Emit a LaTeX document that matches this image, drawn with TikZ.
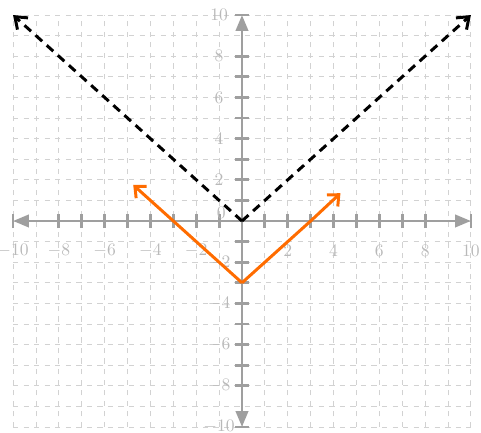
\documentclass[tikz,border=0pt]{standalone}
\usepackage{tikz}
\usetikzlibrary{arrows.meta}

\begin{document}
\begin{tikzpicture}[
    x=0.458cm, y=0.412cm,
    font=\normalsize,
    gridline/.style={
        gray!35,
        line width=0.5pt,
        dash pattern=on 3pt off 3pt
    },
    axisline/.style={
        gray!75,
        line width=1.6pt,
        {Triangle[length=9pt,width=7pt]}-{Triangle[length=9pt,width=7pt]}
    },
    axistick/.style={
        gray!75,
        line width=1.6pt
    },
    ticklabel/.style={
        text=gray!55,
        inner sep=1pt
    },
    parentgraph/.style={
        black,
        line width=1.7pt,
        dash pattern=on 5pt off 3.5pt,
        -{Straight Barb[length=6pt,width=9pt,line width=1.7pt]}
    },
    shiftedgraph/.style={
        orange!85!red,
        line width=1.7pt,
        line join=round,
        -{Straight Barb[length=5pt,width=9pt,line width=1.7pt]}
    }
]
\useasboundingbox (-10.57,-10.29) rectangle (10.44,10.73);
% Grid
\foreach \k in {-10,...,10} {
    \draw[gridline] (\k,-10) -- (\k,10);
    \draw[gridline] (-10,\k) -- (10,\k);
}
% Axes
\coordinate (xleft) at (-10,0);
\coordinate (xright) at (10,0);
\coordinate (ybottom) at (0,-10);
\coordinate (ytop) at (0,10);
\draw[axisline] (xleft) -- (xright);
\draw[axisline] (ybottom) -- (ytop);
% Tick marks
\foreach \k in {-10,-8,-7,-6,-5,-4,-3,-2,-1,1,2,3,4,5,6,7,8,10} {
    \draw[axistick] (\k,-0.35) -- (\k,0.35);
    \draw[axistick] (-0.3,\k) -- (0.3,\k);
}
% Labels on the x-axis
\foreach \k in {-10,-8,-6,-4,-2,2,4,6,8,10} {
    \node[ticklabel] (xl\k) at (\k,-1.45) {$\k$};
}
% Labels on the y-axis
\foreach \k in {10,8,6,4,2,-2,-4,-6,-8,-10} {
    \node[ticklabel] (yl\k) at (-1,\k) {$\k$};
}
\node[ticklabel] (yl0) at (-0.9,0.4) {$0$};
% y = |x|
\coordinate (pvertex) at (0,0);
\coordinate (pleft) at (-10,10);
\coordinate (pright) at (10,10);
\draw[parentgraph] (pvertex) -- (pleft);
\draw[parentgraph] (pvertex) -- (pright);
% y = |x| - 3
\coordinate (svertex) at (0,-3);
\coordinate (sleft) at (-4.75,1.75);
\coordinate (sright) at (4.3,1.35);
\draw[shiftedgraph] (svertex) -- (sleft);
\draw[shiftedgraph] (svertex) -- (3,0) -- (sright);
\end{tikzpicture}
\end{document}
